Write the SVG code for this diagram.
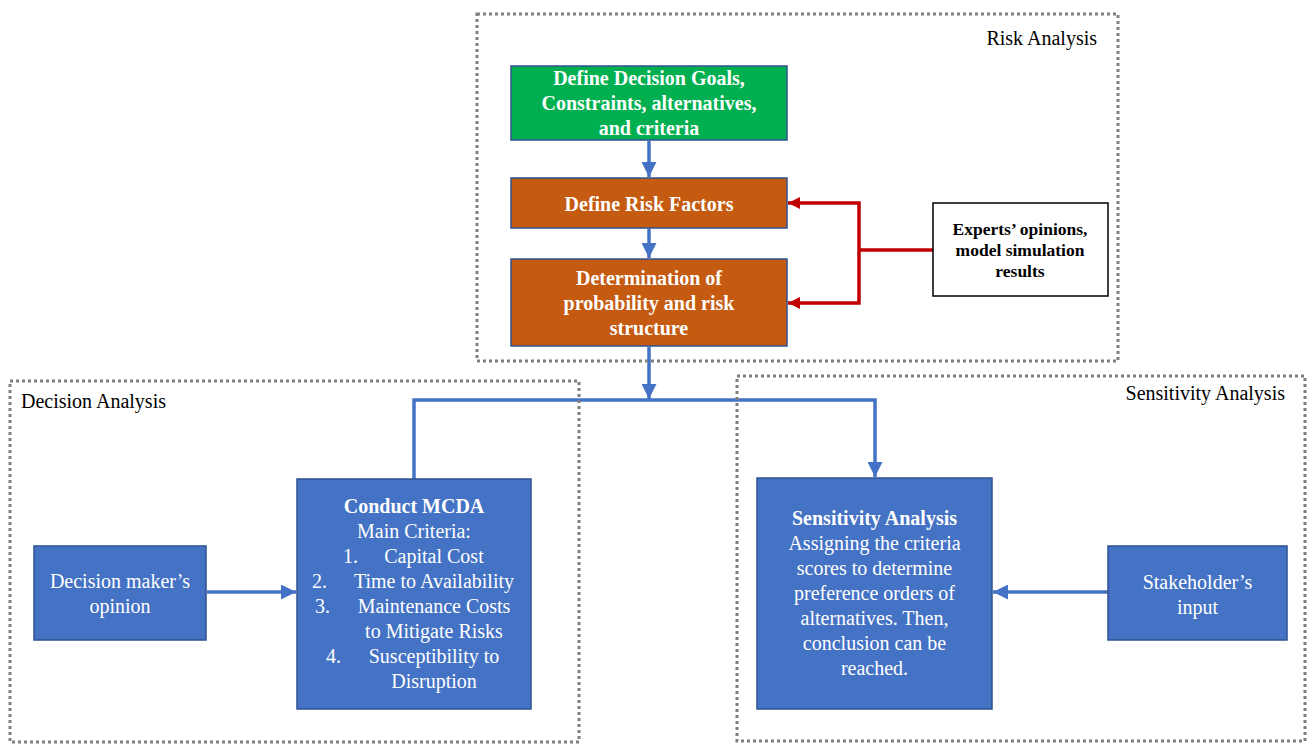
<svg xmlns="http://www.w3.org/2000/svg" width="1309" height="745" viewBox="0 0 1309 745">
<defs>
<style>
.frame{fill:none;stroke:#7F7F7F;stroke-width:3;stroke-dasharray:3 3}
.lbl{font-family:"Liberation Serif","Times New Roman",serif;font-size:20px;fill:#000}
.t{font-family:"Liberation Serif","Times New Roman",serif;font-size:20px;fill:#fff;text-anchor:middle}
.b{font-weight:bold}
.blue{fill:#4472C4;stroke:#2F528F;stroke-width:1.5}
.orange{fill:#C55A11;stroke:#2F528F;stroke-width:1.5}
.green{fill:#00B050;stroke:#2F528F;stroke-width:1.5}
.cb{fill:none;stroke:#4472C4;stroke-width:3.5}
.cr{fill:none;stroke:#C00000;stroke-width:3.5}
</style>
<marker id="ab" markerUnits="userSpaceOnUse" markerWidth="16" markerHeight="15" refX="15" refY="7.5" orient="auto">
<path d="M0,0 L15,7.5 L0,15 z" fill="#4472C4"/>
</marker>
<marker id="ar" markerUnits="userSpaceOnUse" markerWidth="13" markerHeight="12" refX="12" refY="6" orient="auto">
<path d="M0,0 L12,6 L0,12 z" fill="#C00000"/>
</marker>
</defs>
<rect width="1309" height="745" fill="#fff"/>

<g id="connectors">
<path class="cb" d="M649,141 V177" marker-end="url(#ab)"/>
<path class="cb" d="M649,229 V258" marker-end="url(#ab)"/>
<path class="cb" d="M649,347 V399" marker-end="url(#ab)"/>
<path class="cb" d="M414,479 V400 H875 V477" marker-end="url(#ab)"/>
<path class="cb" d="M207,592 H296" marker-end="url(#ab)"/>
<path class="cb" d="M1108,592 H993" marker-end="url(#ab)"/>
<path class="cr" d="M933,250 H859"/>
<path class="cr" d="M859,250 V203 H788" marker-end="url(#ar)"/>
<path class="cr" d="M859,250 V303 H788" marker-end="url(#ar)"/>
</g>

<g id="goals">
<rect class="green" x="511" y="66" width="276" height="74"/>
<text class="t b" x="649" y="85">Define Decision Goals,</text>
<text class="t b" x="649" y="110">Constraints, alternatives,</text>
<text class="t b" x="649" y="135">and criteria</text>
</g>
<g id="riskfactors">
<rect class="orange" x="511" y="178" width="276" height="50"/>
<text class="t b" x="649" y="211">Define Risk Factors</text>
</g>
<g id="probability">
<rect class="orange" x="511" y="259" width="276" height="87"/>
<text class="t b" x="649" y="285">Determination of</text>
<text class="t b" x="649" y="310">probability and risk</text>
<text class="t b" x="649" y="335">structure</text>
</g>
<g id="experts">
<rect x="933" y="203" width="175" height="93" fill="#fff" stroke="#000" stroke-width="1.5"/>
<text class="t b" x="1020" y="235" style="fill:#000;font-size:17.5px">Experts’ opinions,</text>
<text class="t b" x="1020" y="256" style="fill:#000;font-size:17.5px">model simulation</text>
<text class="t b" x="1020" y="277" style="fill:#000;font-size:17.5px">results</text>
</g>
<g id="decisionmaker">
<rect class="blue" x="34" y="546" width="172" height="94"/>
<text class="t" x="120" y="588">Decision maker’s</text>
<text class="t" x="120" y="613">opinion</text>
</g>
<g id="mcda">
<rect class="blue" x="297" y="479" width="234" height="230"/>
<text class="t b" x="414" y="513">Conduct MCDA</text>
<text class="t" x="414" y="538">Main Criteria:</text>
<text class="t" x="343" y="563" style="text-anchor:start">1.</text>
<text class="t" x="434" y="563">Capital Cost</text>
<text class="t" x="312" y="588" style="text-anchor:start">2.</text>
<text class="t" x="434" y="588">Time to Availability</text>
<text class="t" x="315" y="613" style="text-anchor:start">3.</text>
<text class="t" x="434" y="613">Maintenance Costs</text>
<text class="t" x="434" y="638">to Mitigate Risks</text>
<text class="t" x="326" y="663" style="text-anchor:start">4.</text>
<text class="t" x="434" y="663">Susceptibility to</text>
<text class="t" x="434" y="688">Disruption</text>
</g>
<g id="sensitivity">
<rect class="blue" x="757" y="478" width="235" height="231"/>
<text class="t b" x="874.5" y="525">Sensitivity Analysis</text>
<text class="t" x="874.5" y="550">Assigning the criteria</text>
<text class="t" x="874.5" y="575">scores to determine</text>
<text class="t" x="874.5" y="600">preference orders of</text>
<text class="t" x="874.5" y="625">alternatives. Then,</text>
<text class="t" x="874.5" y="650">conclusion can be</text>
<text class="t" x="874.5" y="675">reached.</text>
</g>
<g id="stakeholder">
<rect class="blue" x="1108" y="546" width="179" height="94"/>
<text class="t" x="1197.5" y="589">Stakeholder’s</text>
<text class="t" x="1197.5" y="614">input</text>
</g>

<g id="riskframe">
<rect class="frame" x="477" y="14" width="641" height="347"/>
<text class="lbl" x="1097" y="45" text-anchor="end">Risk Analysis</text>
</g>
<g id="decisionframe">
<rect class="frame" x="10" y="381" width="569" height="361"/>
<text class="lbl" x="21" y="408">Decision Analysis</text>
</g>
<g id="sensitivityframe">
<rect class="frame" x="737" y="376" width="568" height="365"/>
<text class="lbl" x="1285" y="400" text-anchor="end">Sensitivity Analysis</text>
</g>
</svg>
